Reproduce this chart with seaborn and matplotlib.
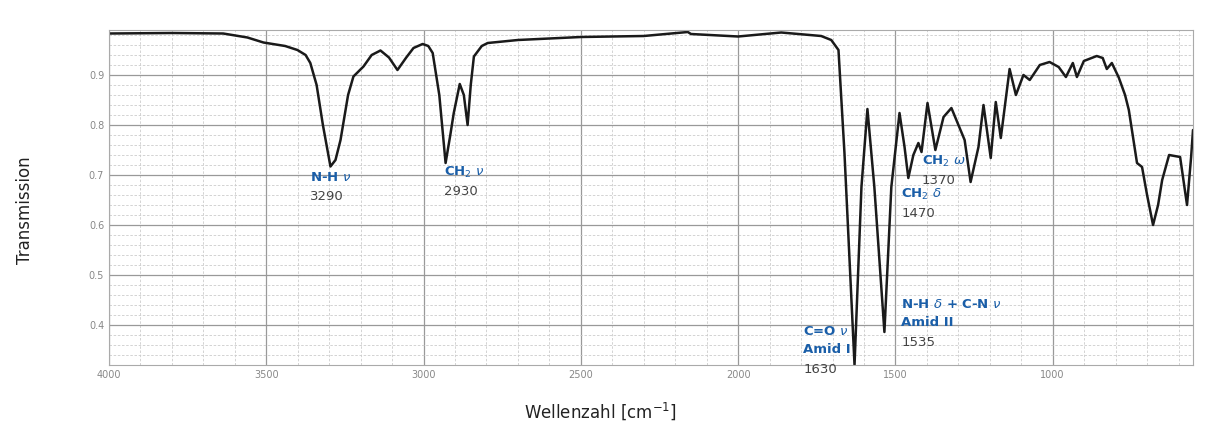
import matplotlib
matplotlib.use("Agg")
import matplotlib.pyplot as plt
import seaborn as sns
import pandas as pd
from matplotlib.ticker import MultipleLocator

# ========== DATA ==========
wavenumber = [4000, 3800, 3637, 3560, 3509, 3440, 3401, 3375, 3360, 3340, 3320, 3296, 3280,
              3264, 3240, 3223, 3191, 3165, 3137, 3110, 3083, 3055, 3032, 3003, 2985, 2971,
              2950, 2930, 2915, 2904, 2885, 2872, 2860, 2850, 2840, 2815, 2796, 2700, 2500,
              2300, 2160, 2150, 2000, 1863, 1736, 1704, 1681, 1662, 1630, 1608, 1589, 1567,
              1535, 1513, 1487, 1471, 1459, 1443, 1427, 1417, 1398, 1373, 1347, 1322, 1280,
              1261, 1236, 1220, 1197, 1181, 1165, 1137, 1117, 1093, 1073, 1041, 1010, 981,
              958, 936, 923, 901, 860, 841, 828, 812, 790, 770, 758, 732, 716, 700, 681, 665,
              652, 630, 595, 573, 560, 554]
transmission = [0.983, 0.984, 0.983, 0.975, 0.965, 0.958, 0.950, 0.940, 0.924, 0.880, 0.800,
                0.717, 0.730, 0.770, 0.860, 0.897, 0.917, 0.940, 0.949, 0.935, 0.910, 0.935,
                0.954, 0.962, 0.958, 0.944, 0.860, 0.724, 0.780, 0.824, 0.882, 0.860, 0.800,
                0.880, 0.937, 0.958, 0.964, 0.970, 0.976, 0.978, 0.986, 0.982, 0.977, 0.985,
                0.978, 0.970, 0.950, 0.744, 0.320, 0.676, 0.832, 0.676, 0.386, 0.676, 0.824,
                0.756, 0.694, 0.740, 0.764, 0.746, 0.844, 0.750, 0.816, 0.834, 0.770, 0.686,
                0.756, 0.840, 0.734, 0.846, 0.774, 0.912, 0.860, 0.900, 0.890, 0.920, 0.926,
                0.916, 0.896, 0.924, 0.896, 0.928, 0.938, 0.934, 0.912, 0.924, 0.895, 0.860,
                0.830, 0.724, 0.716, 0.660, 0.600, 0.640, 0.690, 0.740, 0.736, 0.640, 0.736,
                0.790]

band_x = [3360, 2935, 1793, 1481, 1417, 1481]
band_label = [["N-H $\\nu$"], ["CH$_2$ $\\nu$"], ["C=O $\\nu$", "Amid I"],
              ["N-H $\\delta$ + C-N $\\nu$", "Amid II"], ["CH$_2$ $\\omega$"], ["CH$_2$ $\\delta$"]]
band_label_y = [0.696, 0.706, 0.388, 0.442, 0.728, 0.662]
band_number = ["3290", "2930", "1630", "1535", "1370", "1470"]

BLUE = "#1a5ea8"
GRAY_TXT = "#444444"

# ========== PLOT ==========
sns.set_style("white")
df = pd.DataFrame({"wn": wavenumber, "T": transmission})

fig = plt.figure(figsize=(12.1, 4.23), dpi=100)
ax = fig.add_axes([109 / 1210, 1 - 365 / 423, (1193 - 109) / 1210, (365 - 30) / 423])

sns.lineplot(data=df, x="wn", y="T", ax=ax, color="#1a1a1a", linewidth=1.8, sort=False)

ax.set_xlim(4000, 554)
ax.set_ylim(0.32, 0.99)
ax.xaxis.set_major_locator(MultipleLocator(500))
ax.xaxis.set_minor_locator(MultipleLocator(100))
ax.yaxis.set_major_locator(MultipleLocator(0.1))
ax.yaxis.set_minor_locator(MultipleLocator(0.02))
ax.grid(which="major", color="#999999", linewidth=0.9)
ax.grid(which="minor", color="#cccccc", linewidth=0.6, linestyle=(0, (3, 2)))
ax.tick_params(axis="both", which="both", length=0, labelsize=7, labelcolor="#888888")
ax.set_yticks([0.4, 0.5, 0.6, 0.7, 0.8, 0.9])
ax.set_yticklabels(["0.4", "0.5", "0.6", "0.7", "0.8", "0.9"])
for s in ax.spines.values():
    s.set_color("#aaaaaa")
    s.set_linewidth(0.8)
ax.set_xlabel("")
ax.set_ylabel("")

fig.text(25 / 1210, 1 - 210 / 423, "Transmission", rotation=90, ha="center", va="center",
         fontsize=12, color="#222222")
fig.text(600 / 1210, 1 - 411 / 423, "Wellenzahl [cm$^{-1}$]", ha="center", va="center",
         fontsize=12, color="#222222")

for x, lines, y, num in zip(band_x, band_label, band_label_y, band_number):
    for i, line in enumerate(lines):
        ax.text(x, y - i * 0.037, line, color=BLUE, fontsize=9.5, fontweight="bold",
                ha="left", va="center", clip_on=False)
    ax.text(x, y - len(lines) * 0.037 - 0.002, num, color=GRAY_TXT, fontsize=9.5,
            ha="left", va="center", clip_on=False)

fig.savefig("out.png", dpi=100)
